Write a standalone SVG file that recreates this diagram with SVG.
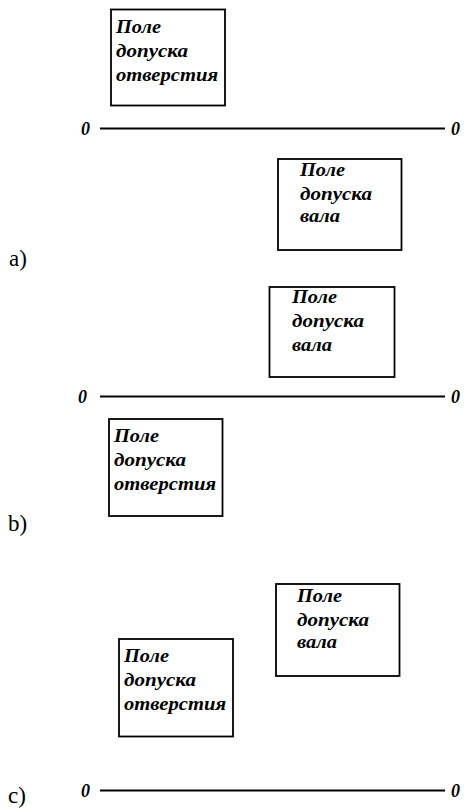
<svg xmlns="http://www.w3.org/2000/svg" width="467" height="812" viewBox="0 0 467 812">
<style>
.box{fill:#fff;stroke:#000;stroke-width:1.8}
.zl{stroke:#000;stroke-width:1.8}
.t{font-family:"Liberation Serif","Times New Roman",serif;font-weight:bold;font-style:italic;font-size:18px;fill:#000}
.z{font-family:"Liberation Serif","Times New Roman",serif;font-weight:bold;font-style:italic;font-size:18px;fill:#000}
.lbl{font-family:"Liberation Serif","Times New Roman",serif;font-size:23px;fill:#000}
</style>
<rect width="467" height="812" fill="#fff"/>
<g id="connectors">
<line class="zl" x1="100" y1="128.5" x2="445" y2="128.5"/>
<line class="zl" x1="100" y1="396.5" x2="445" y2="396.5"/>
<line class="zl" x1="100" y1="790.5" x2="445" y2="790.5"/>
</g>
<g id="zero-a">
<text class="z" x="81" y="135">0</text>
<text class="z" x="451" y="135">0</text>
</g>
<g id="zero-b">
<text class="z" x="78" y="403">0</text>
<text class="z" x="451" y="403">0</text>
</g>
<g id="zero-c">
<text class="z" x="81" y="797">0</text>
<text class="z" x="451" y="797">0</text>
</g>
<g id="label-a"><text class="lbl" x="9" y="266">a)</text></g>
<g id="label-b"><text class="lbl" x="8" y="531">b)</text></g>
<g id="label-c"><text class="lbl" x="8" y="803">c)</text></g>
<g id="hole-a">
<rect class="box" x="111" y="9.5" width="114" height="96"/>
<text class="t" x="116" y="33" textLength="45" lengthAdjust="spacingAndGlyphs">Поле</text>
<text class="t" x="116" y="57" textLength="72" lengthAdjust="spacingAndGlyphs">допуска</text>
<text class="t" x="116" y="81" textLength="102" lengthAdjust="spacingAndGlyphs">отверстия</text>
</g>
<g id="shaft-a">
<rect class="box" x="278" y="159" width="123.5" height="91"/>
<text class="t" x="300" y="176" textLength="45" lengthAdjust="spacingAndGlyphs">Поле</text>
<text class="t" x="300" y="200" textLength="72" lengthAdjust="spacingAndGlyphs">допуска</text>
<text class="t" x="300" y="222" textLength="40" lengthAdjust="spacingAndGlyphs">вала</text>
</g>
<g id="shaft-b">
<rect class="box" x="269.5" y="287" width="125" height="90"/>
<text class="t" x="292" y="303" textLength="45" lengthAdjust="spacingAndGlyphs">Поле</text>
<text class="t" x="292" y="327" textLength="72" lengthAdjust="spacingAndGlyphs">допуска</text>
<text class="t" x="292" y="351" textLength="40" lengthAdjust="spacingAndGlyphs">вала</text>
</g>
<g id="hole-b">
<rect class="box" x="109" y="419" width="113.5" height="97"/>
<text class="t" x="114" y="442" textLength="45" lengthAdjust="spacingAndGlyphs">Поле</text>
<text class="t" x="114" y="466" textLength="72" lengthAdjust="spacingAndGlyphs">допуска</text>
<text class="t" x="114" y="490" textLength="102" lengthAdjust="spacingAndGlyphs">отверстия</text>
</g>
<g id="shaft-c">
<rect class="box" x="276" y="584" width="123.5" height="92"/>
<text class="t" x="297" y="602" textLength="45" lengthAdjust="spacingAndGlyphs">Поле</text>
<text class="t" x="297" y="626" textLength="72" lengthAdjust="spacingAndGlyphs">допуска</text>
<text class="t" x="297" y="648" textLength="40" lengthAdjust="spacingAndGlyphs">вала</text>
</g>
<g id="hole-c">
<rect class="box" x="119" y="639" width="114" height="97.5"/>
<text class="t" x="124" y="662" textLength="45" lengthAdjust="spacingAndGlyphs">Поле</text>
<text class="t" x="124" y="686" textLength="72" lengthAdjust="spacingAndGlyphs">допуска</text>
<text class="t" x="124" y="710" textLength="102" lengthAdjust="spacingAndGlyphs">отверстия</text>
</g>
</svg>
